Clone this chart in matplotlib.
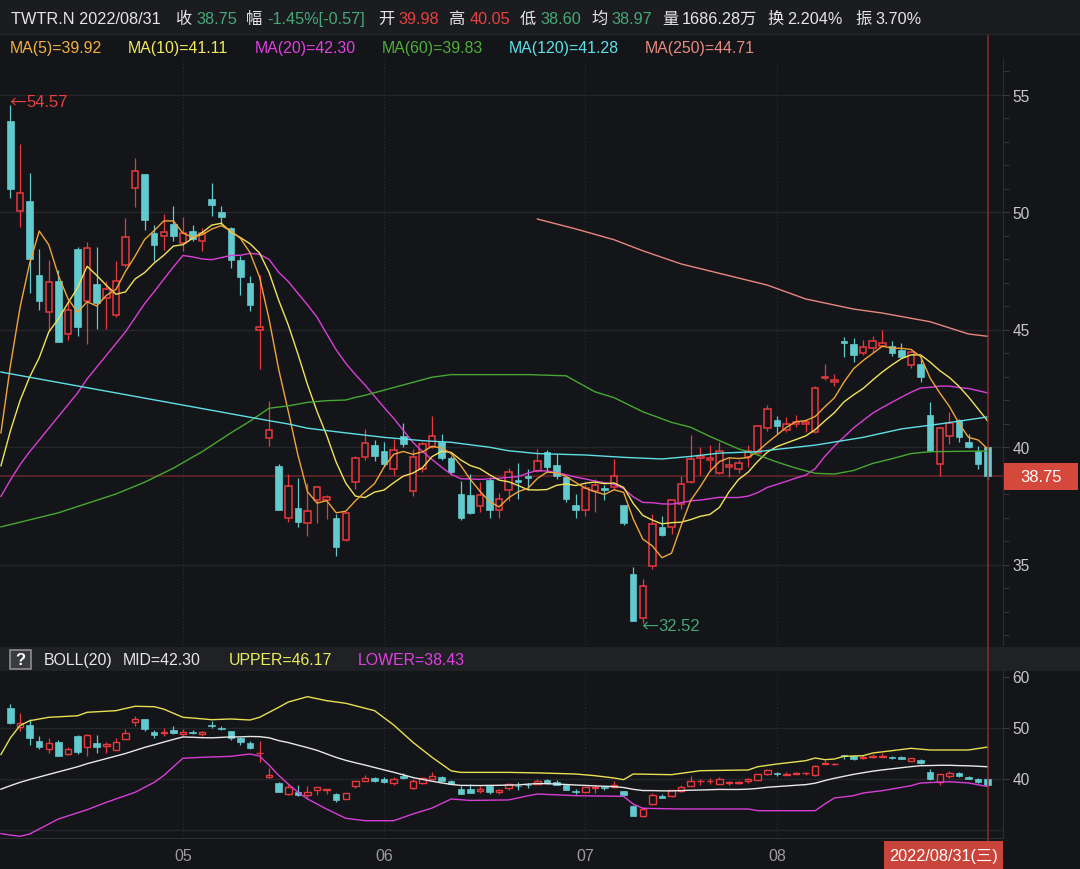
import matplotlib
matplotlib.use("Agg")
import matplotlib.pyplot as plt
import matplotlib.transforms as mtrans
from matplotlib.patches import Rectangle
from matplotlib.lines import Line2D
from matplotlib.ticker import MultipleLocator
import numpy as np

plt.rcParams["font.family"] = ["Liberation Sans", "Noto Sans CJK SC", "DejaVu Sans"]

# ── Data: TWTR.N daily candles 2022/04/05 .. 2022/08/31 ─────────────────────
opens = [53.88, 50.03, 50.48, 47.32, 45.74, 47.06, 44.81, 48.43, 46.20, 46.94,
         46.34, 45.63, 47.76, 51.02, 51.62, 49.09, 48.99, 49.49, 48.69, 49.18,
         48.78, 50.55, 50.00, 49.32, 47.96, 46.97, 44.99, 40.37, 39.20, 36.97,
         37.40, 36.75, 37.76, 37.76, 36.97, 36.06, 38.50, 39.56, 40.10, 39.82,
         39.06, 40.45, 38.14, 39.06, 39.99, 40.23, 39.52, 38.00, 37.96, 37.48,
         38.60, 37.32, 38.18, 38.61, 38.78, 38.99, 39.77, 39.23, 38.71, 37.53,
         37.33, 38.14, 38.26, 38.28, 37.53, 34.60, 32.71, 34.92, 36.61, 36.58,
         37.57, 38.50, 39.53, 39.46, 38.89, 39.17, 39.06, 39.56, 39.74, 40.80,
         41.15, 40.74, 40.98, 40.99, 40.62, 42.92, 42.75, 44.52, 44.38, 43.99,
         44.20, 44.31, 44.31, 44.14, 43.50, 43.53, 41.36, 39.28, 40.48, 41.16,
         40.23, 39.84, 39.98]
highs = [54.57, 52.90, 51.66, 48.43, 47.97, 47.55, 46.26, 48.50, 48.74, 48.50,
         47.08, 47.93, 49.74, 52.30, 51.62, 49.46, 49.91, 50.26, 49.79, 49.46,
         49.30, 51.22, 50.27, 49.35, 48.14, 47.29, 47.30, 41.97, 39.28, 38.85,
         38.67, 38.47, 38.35, 37.96, 37.15, 37.25, 39.60, 40.77, 40.31, 40.23,
         40.34, 41.02, 39.91, 40.23, 41.31, 40.55, 39.62, 38.57, 38.85, 38.50,
         38.71, 38.03, 39.09, 39.32, 39.06, 39.91, 39.89, 39.70, 38.75, 38.00,
         38.43, 38.64, 38.40, 39.49, 37.53, 34.88, 34.38, 37.15, 37.05, 37.76,
         38.75, 40.51, 39.99, 40.09, 40.20, 39.56, 39.45, 40.09, 40.94, 41.79,
         41.30, 41.26, 41.36, 41.19, 42.61, 43.53, 43.11, 44.67, 44.63, 44.57,
         44.74, 44.99, 44.50, 44.43, 44.08, 43.86, 41.93, 40.85, 41.47, 41.20,
         40.55, 40.06, 40.05]
lows = [50.60, 49.36, 46.55, 45.83, 44.94, 44.47, 44.55, 44.74, 44.38, 45.02,
        45.02, 45.53, 47.65, 50.23, 49.23, 47.93, 48.40, 48.78, 48.35, 48.78,
        48.35, 49.84, 49.49, 47.62, 46.48, 45.80, 43.32, 40.03, 37.33, 36.82,
        36.58, 36.20, 36.77, 36.94, 35.37, 36.00, 38.21, 39.46, 39.39, 39.20,
        38.81, 39.99, 37.90, 38.95, 39.95, 39.45, 38.85, 36.91, 37.15, 37.22,
        36.97, 37.00, 37.72, 37.79, 38.18, 38.95, 38.99, 38.64, 37.65, 37.00,
        37.08, 37.25, 37.76, 38.20, 36.70, 32.58, 32.52, 34.81, 36.20, 36.30,
        37.36, 38.45, 38.81, 38.99, 38.85, 38.71, 38.89, 39.14, 39.66, 40.69,
        40.55, 40.65, 40.84, 40.62, 40.58, 42.85, 42.61, 43.82, 43.63, 43.90,
        44.03, 44.25, 43.86, 43.80, 43.35, 42.78, 39.80, 38.78, 40.13, 40.23,
        39.95, 39.06, 38.60]
closes = [50.98, 50.80, 48.00, 46.21, 47.02, 44.47, 45.83, 45.11, 48.47, 46.13,
          46.72, 47.08, 48.95, 51.73, 49.66, 48.61, 49.13, 48.99, 49.09, 48.85,
          49.09, 50.31, 49.77, 47.96, 47.25, 46.06, 45.09, 40.72, 37.33, 38.33,
          36.82, 37.29, 38.28, 37.86, 35.73, 37.18, 39.52, 40.17, 39.60, 39.26,
          39.89, 40.13, 39.56, 40.13, 40.45, 39.52, 38.95, 36.98, 37.19, 37.96,
          37.33, 37.79, 38.92, 38.50, 38.67, 39.42, 39.14, 38.75, 37.79, 37.33,
          38.24, 38.38, 38.18, 38.78, 36.77, 32.61, 34.07, 36.72, 36.26, 37.76,
          38.43, 39.49, 39.60, 39.54, 39.84, 39.23, 39.32, 39.84, 40.88, 41.62,
          40.88, 40.98, 41.05, 41.07, 42.50, 42.97, 42.85, 44.41, 43.91, 44.24,
          44.50, 44.41, 43.99, 43.84, 44.03, 42.97, 39.84, 40.80, 41.02, 40.41,
          39.99, 39.28, 38.75]

# moving averages, one value per candle starting one candle left of the first
ma5 = [40.60, 43.49, 45.95, 47.81, 49.19, 48.60, 47.30, 46.31, 45.73, 46.18,
       46.00, 46.45, 46.70, 47.47, 48.12, 48.83, 49.21, 49.62, 49.62, 49.10,
       48.93, 49.03, 49.27, 49.42, 49.20, 48.88, 48.27, 47.23, 45.42, 43.29,
       41.51, 39.66, 38.10, 37.61, 37.72, 37.20, 37.27, 37.71, 38.09, 38.44,
       39.15, 39.69, 39.81, 39.69, 39.79, 40.03, 39.96, 39.72, 39.21, 38.62,
       38.12, 37.68, 37.45, 37.84, 38.10, 38.24, 38.66, 38.93, 38.90, 38.75,
       38.49, 38.25, 38.10, 37.98, 38.18, 38.07, 36.94, 36.08, 35.79, 35.29,
       35.48, 36.65, 37.73, 38.31, 38.96, 39.38, 39.54, 39.51, 39.55, 39.82,
       40.18, 40.51, 40.84, 41.08, 41.12, 41.30, 41.71, 42.09, 42.76, 43.33,
       43.68, 43.98, 44.29, 44.21, 44.20, 44.15, 43.85, 42.93, 42.30, 41.73,
       41.01, 40.41, 40.30, 39.92]
ma10 = [39.20, 40.70, 41.98, 42.98, 43.80, 44.90, 45.45, 46.13, 46.77, 47.69,
        47.30, 46.88, 46.50, 46.60, 47.15, 47.42, 47.83, 48.16, 48.55, 48.61,
        48.88, 49.12, 49.44, 49.52, 49.15, 48.91, 48.65, 48.25, 47.42, 46.24,
        45.19, 43.96, 42.66, 41.51, 40.50, 39.35, 38.46, 37.91, 37.85, 38.08,
        38.17, 38.48, 38.76, 38.89, 39.12, 39.59, 39.82, 39.77, 39.45, 39.21,
        39.08, 38.82, 38.59, 38.52, 38.36, 38.18, 38.17, 38.19, 38.37, 38.43,
        38.36, 38.46, 38.51, 38.44, 38.47, 38.28, 37.60, 37.09, 36.89, 36.73,
        36.78, 36.80, 36.91, 37.05, 37.13, 37.43, 38.09, 38.62, 38.93, 39.39,
        39.78, 40.02, 40.17, 40.32, 40.47, 40.74, 41.11, 41.46, 41.92, 42.22,
        42.49, 42.85, 43.19, 43.49, 43.76, 43.92, 43.92, 43.61, 43.25, 42.96,
        42.58, 42.13, 41.62, 41.11]
ma20 = [37.90, 38.60, 39.25, 39.80, 40.30, 40.80, 41.30, 41.80, 42.30, 42.90,
        43.40, 43.90, 44.40, 44.90, 45.50, 46.10, 46.61, 47.14, 47.66, 48.15,
        48.09, 48.00, 47.97, 48.06, 48.15, 48.16, 48.24, 48.20, 47.98, 47.43,
        47.04, 46.54, 46.05, 45.52, 44.82, 44.13, 43.56, 43.08, 42.64, 42.16,
        41.68, 41.22, 40.71, 40.20, 39.81, 39.47, 39.14, 38.84, 38.65, 38.64,
        38.62, 38.65, 38.67, 38.71, 38.74, 38.89, 39.00, 38.98, 38.91, 38.82,
        38.72, 38.64, 38.55, 38.48, 38.41, 38.23, 37.88, 37.64, 37.63, 37.58,
        37.57, 37.63, 37.71, 37.74, 37.80, 37.86, 37.85, 37.85, 37.91, 38.06,
        38.28, 38.41, 38.54, 38.68, 38.80, 39.08, 39.60, 40.04, 40.43, 40.81,
        41.13, 41.44, 41.68, 41.90, 42.12, 42.33, 42.51, 42.54, 42.59, 42.59,
        42.53, 42.49, 42.40, 42.30]

ma60_idx = [-1, 2, 5, 8, 11, 14, 17, 20, 23, 25, 27, 29, 31, 33, 35, 36, 37, 41, 44, 46,
            54, 58, 59, 61, 63, 66, 69, 71, 73, 76, 78, 80, 82, 84, 86, 88, 90, 92, 94, 96, 102]
ma60_val = [36.60, 36.90, 37.20, 37.60, 38.00, 38.50, 39.10, 39.80, 40.60, 41.10, 41.65,
            41.75, 41.90, 41.97, 42.00, 42.11, 42.20, 42.64, 42.97, 43.08, 43.08, 43.03,
            42.80, 42.35, 42.10, 41.50, 41.05, 40.84, 40.45, 39.92, 39.66, 39.36, 39.10,
            38.88, 38.85, 39.00, 39.30, 39.50, 39.72, 39.80, 39.83]
ma120_idx = [-1, 4, 9, 14, 19, 24, 27, 29, 31, 35, 39, 43, 46, 50, 52, 55, 60, 64, 68, 71,
             74, 78, 80, 84, 89, 93, 97, 102]
ma120_val = [43.19, 42.82, 42.45, 42.08, 41.71, 41.34, 41.12, 40.98, 40.80, 40.60, 40.41,
             40.27, 40.20, 39.99, 39.84, 39.72, 39.66, 39.56, 39.49, 39.60, 39.74, 39.80,
             39.90, 40.08, 40.41, 40.77, 40.98, 41.28]
ma250_idx = [55, 59, 63, 66, 70, 75, 79, 83, 88, 91, 96, 100, 102]
ma250_val = [49.70, 49.28, 48.82, 48.35, 47.79, 47.29, 46.89, 46.30, 45.87, 45.70, 45.33,
             44.81, 44.71]

boll_up_idx = [-1, 0, 1, 2, 4, 7, 8, 11, 13, 15, 16, 17, 18, 19, 21, 23, 25, 26, 28, 29,
               31, 33, 35, 38, 40, 42, 44, 46, 47, 52, 55, 59, 61, 63, 64, 65, 69, 72, 77,
               78, 80, 83, 84, 85, 86, 87, 89, 90, 92, 94, 96, 100, 102]
boll_up_val = [44.70, 48.00, 50.40, 51.33, 52.00, 52.30, 52.98, 53.30, 54.16, 54.08, 53.60,
               52.80, 52.00, 51.86, 51.53, 51.67, 51.47, 52.00, 53.96, 55.00, 56.04, 55.26,
               54.75, 53.30, 50.49, 47.10, 44.16, 41.50, 41.20, 41.20, 41.10, 40.88, 40.55,
               40.10, 39.77, 40.88, 40.75, 41.53, 41.67, 42.31, 42.84, 43.49, 44.02, 43.69,
               43.82, 44.35, 44.47, 45.00, 45.45, 45.92, 45.59, 45.59, 46.17]
boll_lo_idx = [-1, 0, 1, 2, 5, 8, 10, 13, 15, 16, 17, 18, 20, 23, 25, 26, 27, 28, 29, 30,
               31, 33, 35, 37, 40, 42, 44, 46, 48, 52, 54, 55, 59, 64, 65, 66, 70, 77, 78,
               84, 85, 86, 88, 89, 91, 94, 95, 98, 100, 102]
boll_lo_val = [29.20, 28.90, 28.67, 29.12, 32.06, 33.88, 35.33, 37.29, 39.25, 40.60, 42.30,
               43.96, 44.16, 44.35, 44.80, 44.40, 42.60, 40.60, 38.90, 37.30, 36.00, 34.00,
               32.20, 31.73, 31.73, 33.04, 34.20, 35.98, 35.70, 35.80, 36.60, 36.96, 36.63,
               36.50, 35.00, 34.16, 34.02, 34.02, 33.69, 33.69, 35.00, 36.18, 36.63, 37.16,
               37.61, 38.59, 39.12, 39.37, 39.12, 38.43]

month_idx = [18, 39, 60, 80]
month_labels = ["05", "06", "07", "08"]

# ── Style ───────────────────────────────────────────────────────────────────
W, H = 1080, 870
BG = "#141519"
UP = "#e8393f"
DOWN = "#62c9cd"
GREEN_TXT = "#46a877"
RED_TXT = "#e8413f"
WHITE_TXT = "#e6e6e6"
GRID = "#25262b"
AXIS_TXT = "#c8c8c8"
C_MA5, C_MA10, C_MA20 = "#f0a53a", "#f0e35a", "#d93fd9"
C_MA60, C_MA120, C_MA250 = "#46a832", "#5ee0e6", "#e8887d"
BODY = 0.68
LINE_W = 1.0
CJK = ["Noto Sans CJK SC", "DejaVu Sans"]

# pixel calibration of the two panels
X0_PX, STEP_PX = 10.5, 9.58
MAIN_TOP, MAIN_BOT = 60, 646
LOW_TOP, LOW_BOT = 672, 839
PANEL_R = 1003
MAIN_PPU, MAIN_40 = 23.5, 448
LOW_PPU, LOW_40 = 5.1, 779.5

fig = plt.figure(figsize=(W / 100, H / 100), dpi=100, facecolor=BG)


def px_axes(x0, y0, x1, y1, **kw):
    return fig.add_axes([x0 / W, 1 - y1 / H, (x1 - x0) / W, (y1 - y0) / H], **kw)


xlim = (-X0_PX / STEP_PX, (PANEL_R - X0_PX) / STEP_PX)

# overlay for header bars and texts
ov = px_axes(0, 0, W, H, zorder=0)
ov.set_xlim(0, W)
ov.set_ylim(H, 0)
ov.axis("off")
ov.add_patch(Rectangle((0, 0), W, 35, facecolor="#1b1c20", lw=0))
ov.add_patch(Rectangle((0, 35), W, 1, facecolor="#26272b", lw=0))
ov.add_patch(Rectangle((0, 648), W, 24, facecolor="#202125", lw=0))
ov.add_patch(Rectangle((10, 650.5), 21, 19, facecolor="#3a3b3f", edgecolor="#8e8e8e", lw=1.2))
ov.text(20.5, 660.5, "?", color="white", fontsize=12, fontweight="bold", ha="center", va="center")

title_parts = [
    (11, "TWTR.N 2022/08/31", WHITE_TXT), (175, "收", WHITE_TXT), (196, "38.75", GREEN_TXT),
    (246, "幅", WHITE_TXT), (267, "-1.45%[-0.57]", GREEN_TXT), (378, "开", WHITE_TXT),
    (398, "39.98", RED_TXT), (449, "高", WHITE_TXT), (470, "40.05", RED_TXT),
    (520, "低", WHITE_TXT), (540, "38.60", GREEN_TXT), (591, "均", WHITE_TXT),
    (611, "38.97", GREEN_TXT), (662, "量", WHITE_TXT), (682, "1686.28万", WHITE_TXT),
    (767, "换", WHITE_TXT), (787, "2.204%", WHITE_TXT), (855, "振", WHITE_TXT),
    (875, "3.70%", WHITE_TXT),
]
for x, s, col in title_parts:
    ov.text(x, 19.5, s, color=col, fontsize=11.7, ha="left", va="center")

ma_parts = [
    (10, "MA(5)=39.92", "#f3b040"), (128, "MA(10)=41.11", "#f2ea5c"),
    (255, "MA(20)=42.30", "#e040e0"), (382, "MA(60)=39.83", "#4fae3c"),
    (509, "MA(120)=41.28", "#5fe1e8"), (645, "MA(250)=44.71", "#e98a80"),
]
for x, s, col in ma_parts:
    ov.text(x, 48.5, s, color=col, fontsize=11.4, ha="left", va="center")

boll_parts = [
    (44, "BOLL(20)", WHITE_TXT), (123, "MID=42.30", WHITE_TXT),
    (229, "UPPER=46.17", "#ecec58"), (358, "LOWER=38.43", "#e040e0"),
]
for x, s, col in boll_parts:
    ov.text(x, 661, s, color=col, fontsize=11.4, ha="left", va="center")

# left scroll marker
ov.add_patch(Rectangle((0, 113), 2.5, 110, facecolor="#3b3c40", lw=0))


def draw_candles(ax, box_lw):
    for i, (o, h, l, c) in enumerate(zip(opens, highs, lows, closes)):
        if c >= o:
            ax.add_patch(Rectangle((i - BODY / 2, o), BODY, c - o, facecolor=BG,
                                   edgecolor=UP, lw=box_lw, zorder=3))
            ax.plot([i, i], [c, h], color=UP, lw=0.9, zorder=3, solid_capstyle="butt")
            ax.plot([i, i], [l, o], color=UP, lw=0.9, zorder=3, solid_capstyle="butt")
        else:
            ax.plot([i, i], [l, h], color=DOWN, lw=0.9, zorder=3, solid_capstyle="butt")
            ax.add_patch(Rectangle((i - BODY / 2, c), BODY, o - c, facecolor=DOWN,
                                   edgecolor=DOWN, lw=0.5, zorder=3))


def style_panel(ax, ticks):
    ax.set_facecolor(BG)
    for side in ["top", "left", "bottom"]:
        ax.spines[side].set_visible(False)
    ax.spines["right"].set_color("#2b2c31")
    ax.yaxis.tick_right()
    ax.set_yticks(ticks)
    ax.tick_params(axis="y", which="both", length=4, color="#3a3b40",
                   labelcolor=AXIS_TXT, labelsize=11.2, pad=3)
    ax.set_xlim(*xlim)
    for m in month_idx:
        ax.axvline(m, color="#2e2f34", lw=0.8, ls=(0, (1, 2)), zorder=1)


# ── Main price panel ────────────────────────────────────────────────────────
ax = px_axes(0, MAIN_TOP, PANEL_R, MAIN_BOT)
ax.set_ylim(40 - (MAIN_BOT - MAIN_40) / MAIN_PPU, 40 + (MAIN_40 - MAIN_TOP) / MAIN_PPU)
style_panel(ax, [35, 40, 45, 50, 55])
ax.yaxis.set_minor_locator(MultipleLocator(1))
ax.set_xticks([])
for lvl in [35, 40, 45, 50, 55]:
    ax.axhline(lvl, color=GRID, lw=1, zorder=1)

draw_candles(ax, 1.1)

ma_x = np.arange(-1, len(ma5) - 1)
ax.plot(ma_x, ma20, color=C_MA20, lw=LINE_W, zorder=4)
ax.plot(ma_x, ma10, color=C_MA10, lw=LINE_W, zorder=4)
ax.plot(ma_x, ma5, color=C_MA5, lw=LINE_W, zorder=4)
ax.plot(ma60_idx, ma60_val, color=C_MA60, lw=LINE_W, zorder=4)
ax.plot(ma120_idx, ma120_val, color=C_MA120, lw=LINE_W, zorder=4)
ax.plot(ma250_idx, ma250_val, color=C_MA250, lw=LINE_W, zorder=4)

last = len(closes) - 1
ax.axhline(closes[last], color="#6b2528", lw=1.1, zorder=2)

# extreme-price markers: arrow glyph + value
hi_i = int(np.argmax(highs))
lo_i = int(np.argmin(lows))
for idx, price, dy, col in [(hi_i, highs[hi_i], 3, RED_TXT), (lo_i, lows[lo_i], -3, GREEN_TXT)]:
    ax.annotate("←", (idx, price), xytext=(-1.5, dy), textcoords="offset pixels",
                color=col, fontsize=12, ha="left", va="center", family=CJK)
    ax.annotate(f"{price:.2f}", (idx, price), xytext=(16, dy), textcoords="offset pixels",
                color=col, fontsize=12, ha="left", va="center")

# last price tag on the right axis
tag_tr = mtrans.blended_transform_factory(fig.transFigure, ax.transData)
tag_h = 27.5 / MAIN_PPU
ax.add_patch(Rectangle((1004 / W, closes[last] - tag_h / 2), 74 / W, tag_h,
                       transform=tag_tr, facecolor="#d4493b", lw=0, clip_on=False, zorder=6))
ax.text(1041 / W, closes[last], f"{closes[last]:.2f}", transform=tag_tr, color="white",
        fontsize=12, ha="center", va="center", zorder=7)

# ── BOLL panel ──────────────────────────────────────────────────────────────
axb = px_axes(0, LOW_TOP, PANEL_R, LOW_BOT)
axb.set_ylim(40 - (LOW_BOT - LOW_40) / LOW_PPU, 40 + (LOW_40 - LOW_TOP) / LOW_PPU)
style_panel(axb, [40, 50, 60])
axb.spines["bottom"].set_visible(True)
axb.spines["bottom"].set_color("#2b2c31")
for lvl in [30, 40, 50]:
    axb.axhline(lvl, color=GRID, lw=1, zorder=1)
axb.set_xticks(month_idx)
axb.set_xticklabels(month_labels)
axb.tick_params(axis="x", length=0, pad=7, labelcolor="#9b9b9b", labelsize=11.5)

draw_candles(axb, 1.0)
axb.plot(boll_up_idx, boll_up_val, color="#e8e050", lw=LINE_W, zorder=4)
axb.plot(ma_x, ma20, color="#e8e8e8", lw=LINE_W, zorder=4)
axb.plot(boll_lo_idx, boll_lo_val, color="#d63fd6", lw=LINE_W, zorder=4)

# ── Cursor on the last candle ───────────────────────────────────────────────
cur_tr = mtrans.blended_transform_factory(ax.transData, fig.transFigure)
fig.add_artist(Line2D([last, last], [1 - 37 / H, 1 - 842 / H], transform=cur_tr,
                      color="#8a2c2c", lw=1.1, zorder=5))

ov2 = px_axes(0, 0, W, H, zorder=10)
ov2.set_xlim(0, W)
ov2.set_ylim(H, 0)
ov2.axis("off")
ov2.patch.set_alpha(0)
ov2.add_patch(Rectangle((884, 842), 119, 28, facecolor="#c9443a", lw=0))
ov2.text(943.5, 856.5, "2022/08/31(三)", color="white", fontsize=11.7, ha="center", va="center")

fig.savefig("out.png", dpi=100, facecolor=BG)
